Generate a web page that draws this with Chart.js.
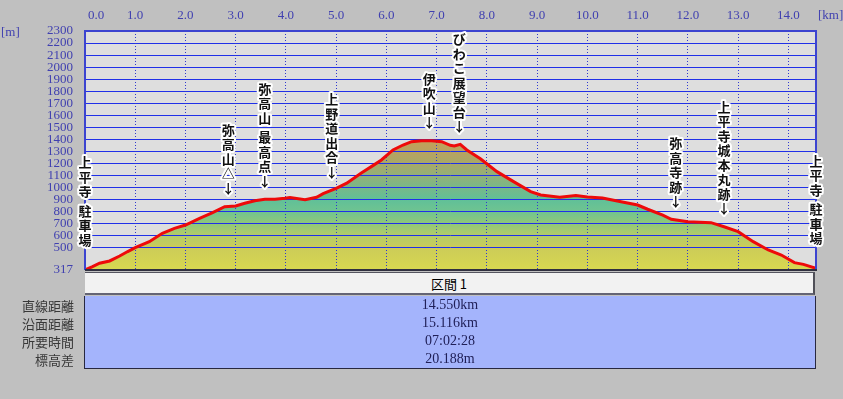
<!DOCTYPE html>
<html><head><meta charset="utf-8">
<script src="https://cdn.jsdelivr.net/npm/chart.js@4"></script>
<style>
html,body{margin:0;padding:0;background:#c0c0c0;}
#wrap{position:relative;width:843px;height:399px;overflow:hidden;background:#c0c0c0;}
#c{position:absolute;left:0;top:0;}
#hdr{position:absolute;left:85px;top:272px;width:728px;height:20px;background:#f2f2f2;border-top:1px solid #555560;border-bottom:2px solid #646474;border-right:2px solid #505058;
  font:13px "Noto Sans CJK JP";color:#000;text-align:center;line-height:21px;}
#body{position:absolute;left:84px;top:296px;width:730px;height:72px;background:#a4b4fc;border-left:1px solid #282840;border-right:1px solid #282840;border-bottom:1px solid #282840;}
.val{position:absolute;left:0;width:730px;text-align:center;font:14px "Liberation Serif";color:#202058;height:18px;line-height:18px;}
.lab{position:absolute;left:0;width:74px;text-align:right;font:13px "Noto Sans CJK JP";color:#383838;height:18px;line-height:18px;}
</style></head>
<body>
<div id="wrap">
<canvas id="c" width="843" height="399"></canvas>
<div id="hdr"></div>
<div id="body"></div>
<div id="labs"></div>
</div>
<script>
// ---- data ----
const distKm = [0.00,0.15,0.29,0.49,0.69,0.85,1.00,1.28,1.54,1.78,2.00,2.28,2.54,2.78,3.00,3.18,3.38,3.58,3.78,3.98,4.08,4.38,4.61,4.74,5.00,5.21,5.50,5.73,5.90,6.13,6.33,6.50,6.70,6.90,7.10,7.27,7.35,7.47,7.60,7.87,8.20,8.53,8.87,9.07,9.45,9.77,10.00,10.30,10.67,11.00,11.20,11.50,11.67,12.00,12.46,12.72,13.00,13.30,13.60,13.86,14.12,14.30,14.55];
const elevM  = [317,345,373,392,433,470,502,552,622,663,690,746,793,842,848,871,892,904,904,912,918,900,920,950,995,1037,1122,1183,1230,1313,1354,1382,1390,1390,1382,1352,1346,1360,1313,1240,1133,1050,967,939,920,935,923,915,884,856,821,773,738,718,710,676,635,552,483,441,378,364,330];
const xTickValues = [0,1,2,3,4,5,6,7,8,9,10,11,12,13,14];
const yTickValues = [317,500,600,700,800,900,1000,1100,1200,1300,1400,1500,1600,1700,1800,1900,2000,2100,2200,2300];
const markerKm   = [0, 2.85, 3.58, 4.91, 6.85, 7.45, 11.76, 12.72, 14.55];
const markerText = ['上平寺 駐車場','弥高山△','弥高山 最高点','上野道出合','伊吹山','びわこ展望台','弥高寺跡','上平寺城本丸跡','上平寺 駐車場'];
const markerArrow = [false,true,true,true,true,true,true,true,false];
const sectionLabel = '区間 1';
const tableRowLabels = ['直線距離','沿面距離','所要時間','標高差'];
const tableRowValues = ['14.550km','15.116km','07:02:28','20.188m'];
const xUnit = '[km]', yUnit = '[m]';

// ---- table ----
document.getElementById('hdr').textContent = sectionLabel;
const body = document.getElementById('body');
const labs = document.getElementById('labs');
tableRowValues.forEach((v,i)=>{
  const d = document.createElement('div'); d.className='val'; d.style.top=(i*18)+'px'; d.textContent=v; body.appendChild(d);
  const l = document.createElement('div'); l.className='lab'; l.style.top=(297+i*18)+'px'; l.textContent=tableRowLabels[i]; labs.appendChild(l);
});

function elevAt(km){
  for(let i=1;i<distKm.length;i++){
    if(km<=distKm[i]){const t=(km-distKm[i-1])/(distKm[i]-distKm[i-1]);return elevM[i-1]+t*(elevM[i]-elevM[i-1]);}
  }
  return elevM[elevM.length-1];
}

const pts = distKm.map((d,i)=>({x:d,y:elevM[i]}));
const BLUE = '#2030e8';
const TICKC = '#4040b0';

const overlay = {
  id:'overlay',
  beforeDraw(chart){
    const {ctx, chartArea:a} = chart;
    ctx.save(); ctx.fillStyle='#dedede'; ctx.fillRect(a.left,a.top,a.right-a.left,a.bottom-a.top); ctx.restore();
  },
  beforeDatasetDraw(chart,args){
    if(args.index===0){
      chart.scales.y.drawGrid(chart.chartArea);
      chart.scales.x.drawGrid(chart.chartArea);
    }
  },
  afterDraw(chart){
    const {ctx, chartArea:a, scales:{x,y}} = chart;
    ctx.save();
    // frame
    ctx.strokeStyle='#3c44d0'; ctx.lineWidth=2;
    ctx.beginPath(); ctx.moveTo(a.left,a.bottom); ctx.lineTo(a.left,a.top); ctx.lineTo(a.right,a.top); ctx.lineTo(a.right,a.bottom); ctx.stroke();
    ctx.strokeStyle='#303040'; ctx.lineWidth=2;
    ctx.beginPath(); ctx.moveTo(a.left,a.bottom); ctx.lineTo(a.right+1,a.bottom); ctx.stroke();
    // x tick labels
    ctx.font='13px "Liberation Serif"'; ctx.fillStyle=TICKC; ctx.textBaseline='middle'; ctx.textAlign='left';
    x.ticks.forEach(t=>{
      const s = t.value.toFixed(1);
      const w = ctx.measureText(s).width;
      let lx = x.getPixelForValue(t.value)-w/2;
      if(lx < a.left+3) lx = a.left+3;
      ctx.fillText(s,lx,16);
    });
    ctx.fillText(xUnit, a.right+2, 16);
    ctx.fillText(yUnit, 1, 33);
    // markers
    ctx.font='bold 13px "Noto Sans CJK JP"'; ctx.textAlign='center'; ctx.textBaseline='middle';
    ctx.lineJoin='round'; ctx.strokeStyle='#ffffff'; ctx.lineWidth=4; ctx.fillStyle='#111';
    markerKm.forEach((km,i)=>{
      const px = x.getPixelForValue(km);
      const py = y.getPixelForValue(elevAt(km));
      const chars = Array.from(markerText[i]);
      if(markerArrow[i]) chars.push('↓');
      let cy = py - (markerArrow[i] ? 18.5 : 30);
      for(let j=chars.length-1;j>=0;j--){
        const c = chars[j];
        if(c===' '){cy-=5;continue;}
        ctx.strokeText(c,px,cy); ctx.fillText(c,px,cy);
        cy -= 14.5;
      }
    });
    ctx.restore();
  }
};

new Chart(document.getElementById('c'),{
  type:'line',
  data:{datasets:[
    {data:pts, borderColor:'#ee0a0a', borderWidth:3, pointRadius:0, fill:false, tension:0, order:0},
    {data:pts, borderWidth:0, pointRadius:0, tension:0, fill:'start', order:1,
     backgroundColor:(c)=>{
       const ch=c.chart; if(!ch.chartArea) return '#60c098';
       const ys=ch.scales.y;
       const y0=ys.getPixelForValue(317), y1=ys.getPixelForValue(1400);
       const g=ch.ctx.createLinearGradient(0,y0,0,y1);
       g.addColorStop(0,'#d8d850');
       g.addColorStop((500-317)/1083,'#cccc58');
       g.addColorStop((600-317)/1083,'#b4cc68');
       g.addColorStop((700-317)/1083,'#90c878');
       g.addColorStop((800-317)/1083,'#70c490');
       g.addColorStop((900-317)/1083,'#60c098');
       g.addColorStop((1000-317)/1083,'#78b888');
       g.addColorStop((1100-317)/1083,'#92b078');
       g.addColorStop((1200-317)/1083,'#a8a868');
       g.addColorStop((1300-317)/1083,'#b8a260');
       g.addColorStop(1,'#c4a058');
       return g;
     }}
  ]},
  options:{
    responsive:false, animation:false, devicePixelRatio:1,
    layout:{padding:{left:0,top:0,right:27,bottom:129}},
    plugins:{legend:{display:false},tooltip:{enabled:false}},
    scales:{
      x:{type:'linear',position:'top',min:0,max:14.55,
        afterBuildTicks:s=>{s.ticks=xTickValues.map(v=>({value:v}));},
        afterFit:s=>{s.height=31;},
        ticks:{display:false},
        grid:{color:'#3038d0',lineWidth:1,drawTicks:false},
        border:{display:false,dash:[1,2]}},
      y:{type:'linear',min:317,max:2300,
        afterBuildTicks:s=>{s.ticks=yTickValues.map(v=>({value:v}));},
        afterFit:s=>{s.width=85;},
        ticks:{autoSkip:false,color:TICKC,padding:12,font:{family:'Liberation Serif',size:13},callback:v=>String(v)},
        grid:{color:c=>c.tick&&c.tick.value===317?'rgba(0,0,0,0)':BLUE,lineWidth:1,drawTicks:false},
        border:{display:false}}
    }
  },
  plugins:[overlay]
});
</script>
</body></html>
